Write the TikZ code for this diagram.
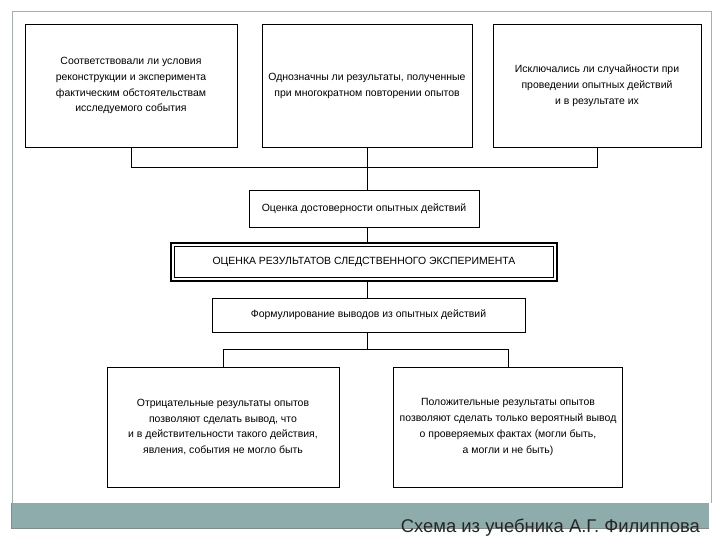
\documentclass[tikz,border=0pt]{standalone}
\usepackage{fontspec}
\setmainfont{Liberation Sans}
\definecolor{framegray}{RGB}{165,175,175}
\definecolor{bandteal}{RGB}{143,172,172}
\begin{document}
\begin{tikzpicture}[x=1bp,y=-1bp,
  box/.style={draw=black, line width=0.9bp, inner sep=2bp, align=center,
    font=\fontsize{10.5}{16}\selectfont},
  conn/.style={draw=black, line width=0.9bp}]
\useasboundingbox (0,0) rectangle (720,540);
% frame and band
\draw[framegray, line width=1bp] (12,503) -- (12,12) -- (711,12) -- (711,503);
\fill[bandteal] (11,503) rectangle (709,528);
\draw[framegray!80!black, line width=0.6bp] (11,503) -- (11,528) -- (709,528);
% top boxes
\node[box, minimum width=212bp, minimum height=123bp] (b1) at (131,85.5)
  {Соответствовали ли условия\\реконструкции и эксперимента\\фактическим обстоятельствам\\исследуемого события};
\node[box, minimum width=210bp, minimum height=123bp] (b2) at (367,85.5)
  {Однозначны ли результаты, полученные\\при многократном повторении опытов};
\node[box, minimum width=208bp, minimum height=123bp] (b3) at (597,85.5)
  {Исключались ли случайности при\\проведении опытных действий\\и в результате их};
% middle boxes
\node[box, minimum width=230bp, minimum height=37bp] (ocd) at (364,208.5)
  {Оценка достоверности опытных действий};
\node[box, line width=2.8bp, minimum width=386bp, minimum height=38bp] (main) at (364,262)
  {ОЦЕНКА РЕЗУЛЬТАТОВ СЛЕДСТВЕННОГО ЭКСПЕРИМЕНТА};
\draw[line width=0.9bp] ([shift={(5,4.5)}]main.north west) rectangle ([shift={(-5,-4.5)}]main.south east);
\node[box, minimum width=313bp, minimum height=34bp] (form) at (368.5,315)
  {Формулирование выводов из опытных действий};
% bottom boxes
\node[box, minimum width=232bp, minimum height=120bp] (neg) at (223,427)
  {Отрицательные результаты опытов\\позволяют сделать вывод, что\\и в действительности такого действия,\\явления, события не могло быть};
\node[box, minimum width=229bp, minimum height=120bp] (pos) at (508,427)
  {Положительные результаты опытов\\позволяют сделать только вероятный вывод\\о проверяемых фактах (могли быть,\\а могли и не быть)};
% connectors top
\coordinate (j1) at (367,167);
\draw[conn] (b1.south) -- (b1.south |- j1) -- (b3.south |- j1) -- (b3.south);
\draw[conn] (b2.south) -- (ocd.north -| b2.south);
\draw[conn] (ocd.south -| b2.south) -- (main.north -| b2.south);
\draw[conn] (main.south -| b2.south) -- (form.north -| b2.south);
% connectors bottom
\coordinate (j2) at (367,349);
\draw[conn] (form.south -| j2) -- (j2);
\draw[conn] (neg.north) -- (neg.north |- j2) -- (pos.north |- j2) -- (pos.north);
% caption
\node[anchor=base east, inner sep=0, font=\fontsize{18.5}{20}\selectfont, text=black!85] (cap) at (700,532)
  {Схема из учебника А.Г. Филиппова};
\end{tikzpicture}
\end{document}
